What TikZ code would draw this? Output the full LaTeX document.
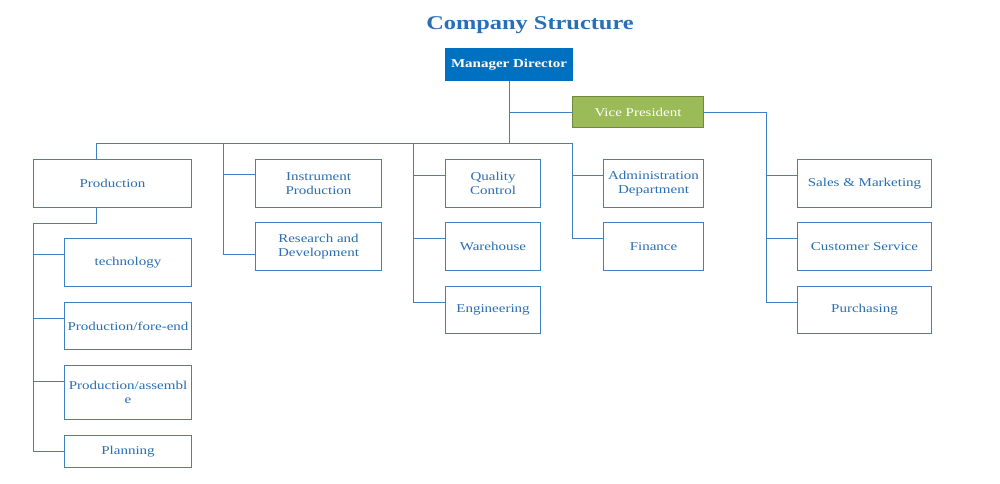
\documentclass[tikz,border=0pt]{standalone}
\usepackage{fontspec}
\setmainfont{Liberation Serif}[FakeStretch=1.25]
\usetikzlibrary{calc}
\definecolor{ln}{HTML}{3F80C2}
\definecolor{tx}{HTML}{2A6FB3}
\definecolor{mdblue}{HTML}{0070C0}
\definecolor{vpgreen}{HTML}{9BBB59}
\definecolor{vpedge}{HTML}{71893F}
\tikzset{
  box/.style={draw=ln, line width=1pt, fill=white, text=tx, anchor=north west, inner sep=0pt,
    align=center, font=\fontsize{12}{14}\selectfont},
  conn/.style={draw=ln, line width=1pt},
}
\begin{document}
\begin{tikzpicture}[x=1pt,y=-1pt]
\useasboundingbox (0,0) rectangle (1000,483);
\node[text=tx, font=\fontsize{19.5}{22}\selectfont\bfseries] (title) at (530,25) {Company Structure};

\node[box, fill=mdblue, draw=mdblue, text=white, font=\fontsize{12}{14}\selectfont\bfseries, minimum width=127pt, minimum height=32pt] (md) at (445,48) {Manager Director};
\node[box, fill=vpgreen, draw=vpedge, text=white, minimum width=131pt, minimum height=31pt] (vp) at (572,96) {Vice President};

\node[box, minimum width=158pt, minimum height=48pt] (prod) at (33,159) {Production};
\node[box, minimum width=127pt, minimum height=48pt] (tech) at (64,238) {technology};
\node[box, minimum width=127pt, minimum height=47pt] (fore) at (64,302) {Production/fore-end};
\node[box, minimum width=127pt, minimum height=54pt] (assm) at (64,365) {Production/assembl\\e};
\node[box, minimum width=127pt, minimum height=32pt] (plan) at (64,435) {Planning};

\node[box, minimum width=126pt, minimum height=48pt] (inst) at (255,159) {Instrument\\Production};
\node[box, minimum width=126pt, minimum height=48pt] (rnd) at (255,222) {Research and\\Development};

\node[box, minimum width=95pt, minimum height=48pt] (qc) at (445,159) {Quality\\Control};
\node[box, minimum width=95pt, minimum height=48pt] (wh) at (445,222) {Warehouse};
\node[box, minimum width=95pt, minimum height=47pt] (eng) at (445,286) {Engineering};

\node[box, minimum width=100pt, minimum height=48pt] (adm) at (603,159) {Administration\\Department};
\node[box, minimum width=100pt, minimum height=48pt] (fin) at (603,222) {Finance};

\node[box, minimum width=134pt, minimum height=48pt] (sales) at (797,159) {Sales \& Marketing};
\node[box, minimum width=134pt, minimum height=48pt] (cs) at (797,222) {Customer Service};
\node[box, minimum width=134pt, minimum height=47pt] (pur) at (797,286) {Purchasing};

% junctions
\coordinate (bus) at (md.south |- 0,143);
\coordinate (pA) at (96,143);
\coordinate (iA) at (223,143);
\coordinate (qA) at (413,143);
\coordinate (aA) at (572,143);
\coordinate (rA) at (766,0);
\coordinate (lA) at (prod.south west);

% main trunk
\draw[conn] (md.south) -- (bus);
\draw[conn] (md.south |- vp.west) -- (vp.west);
\draw[conn] (pA) -- (aA);

% production branch
\draw[conn] (pA) -- (pA |- prod.north);
\draw[conn] (pA |- prod.south) -- ++(0,15) -| ($(plan.north west)+(-31,16)$) -- ($(plan.north west)+(0,16)$);
\draw[conn] (lA |- tech.north) ++(0,16) -- ($(tech.north west)+(0,16)$);
\draw[conn] (lA |- fore.north) ++(0,16) -- ($(fore.north west)+(0,16)$);
\draw[conn] (lA |- assm.north) ++(0,16) -- ($(assm.north west)+(0,16)$);

% instrument branch
\draw[conn] (iA) |- ($(rnd.north west)+(0,32)$);
\draw[conn] (iA |- inst.north) ++(0,15) -- ($(inst.north west)+(0,15)$);

% quality branch
\draw[conn] (qA) |- ($(eng.north west)+(0,16)$);
\draw[conn] (qA |- qc.north) ++(0,16) -- ($(qc.north west)+(0,16)$);
\draw[conn] (qA |- wh.north) ++(0,16) -- ($(wh.north west)+(0,16)$);

% administration branch
\draw[conn] (aA) |- ($(fin.north west)+(0,16)$);
\draw[conn] (aA |- adm.north) ++(0,16) -- ($(adm.north west)+(0,16)$);

% vice president branch
\draw[conn] (vp.east) -| ($(rA |- pur.north)+(0,16)$) -- ($(pur.north west)+(0,16)$);
\draw[conn] (rA |- sales.north) ++(0,16) -- ($(sales.north west)+(0,16)$);
\draw[conn] (rA |- cs.north) ++(0,16) -- ($(cs.north west)+(0,16)$);
\end{tikzpicture}
\end{document}
